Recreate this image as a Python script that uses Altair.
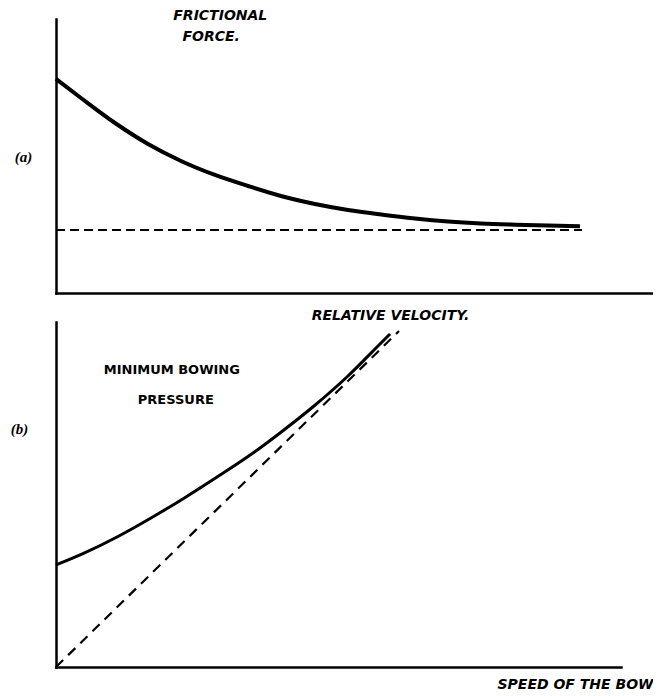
import altair as alt
import pandas as pd

# ---------------- Panel (a): frictional force vs relative velocity ----------------
a_velocity = [0.0, 0.414, 0.977, 1.523, 2.070, 2.632, 3.179, 3.725, 4.288, 4.834, 5.381,
              5.944, 6.490, 7.036, 7.599, 8.146, 8.675]
a_force = [7.810, 7.117, 6.204, 5.438, 4.818, 4.307, 3.905, 3.540, 3.248, 3.029, 2.865,
           2.719, 2.609, 2.536, 2.493, 2.464, 2.438]
a_limit_velocity = [0.0, 8.71]
a_limit_force = [2.30, 2.30]
a_labels = ["FRICTIONAL", "FORCE."]
a_label_x = [2.72, 2.57]
a_label_y = [10.12, 9.36]

# ---------------- Panel (b): minimum bowing pressure vs speed of the bow ----------------
b_speed = [0.0, 0.496, 1.097, 1.681, 2.265, 2.796, 3.398, 3.982, 4.566, 5.168, 5.752, 5.912]
b_pressure = [2.957, 3.299, 3.783, 4.319, 4.893, 5.449, 6.099, 6.806, 7.565, 8.435, 9.391, 9.652]
b_line_speed = [0.0, 6.071]
b_line_pressure = [0.0, 9.739]
b_labels = ["MINIMUM BOWING", "PRESSURE"]
b_label_x = [2.05, 2.12]
b_label_y = [8.61, 7.74]

LABEL_FONT = "DejaVu Sans"
TAG_FONT = "Liberation Serif"

dfA = pd.DataFrame({"v": a_velocity, "f": a_force})
dfA_dash = pd.DataFrame({"v": a_limit_velocity, "f": a_limit_force})
dfA_text = pd.DataFrame({"v": a_label_x, "f": a_label_y, "label": a_labels})

dfB = pd.DataFrame({"s": b_speed, "p": b_pressure})
dfB_dash = pd.DataFrame({"s": b_line_speed, "p": b_line_pressure})
dfB_text = pd.DataFrame({"s": b_label_x, "p": b_label_y, "label": b_labels})

axis_common = dict(labels=False, ticks=False, grid=False, domainColor="black",
                   domainWidth=2.5, domainCap="square", titleColor="black")

xA = alt.X("v:Q", scale=alt.Scale(domain=[0, 9.868], nice=False, zero=False),
           axis=alt.Axis(title="RELATIVE VELOCITY.", titleX=334, titleY=22,
                         titleAlign="center", titleBaseline="middle",
                         titleFont=LABEL_FONT, titleFontSize=14,
                         titleFontStyle="italic", titleFontWeight="bold", **axis_common))
yA = alt.Y("f:Q", scale=alt.Scale(domain=[0, 10], nice=False, zero=False),
           axis=alt.Axis(title="(a)", titleAngle=0, titleX=-33, titleY=137,
                         titleAlign="center", titleBaseline="middle",
                         titleFont=TAG_FONT, titleFontSize=15,
                         titleFontStyle="italic", titleFontWeight="bold", **axis_common))

a_curve = alt.Chart(dfA).mark_line(color="black", strokeWidth=4, interpolate="monotone").encode(x=xA, y=yA)
a_dash = alt.Chart(dfA_dash).mark_line(color="black", strokeWidth=2, strokeDash=[9, 5]).encode(x=xA, y=yA)
a_text = alt.Chart(dfA_text).mark_text(font=LABEL_FONT, fontSize=14, fontStyle="italic",
                                       fontWeight="bold", color="black",
                                       align="center", baseline="middle").encode(x=xA, y=yA, text="label:N")
panelA = alt.layer(a_curve, a_dash, a_text).properties(width=596, height=274)

xB = alt.X("s:Q", scale=alt.Scale(domain=[0, 10], nice=False, zero=False),
           axis=alt.Axis(title="SPEED OF THE BOW", titleX=597, titleY=17,
                         titleAlign="right", titleBaseline="middle",
                         titleFont=LABEL_FONT, titleFontSize=14,
                         titleFontStyle="italic", titleFontWeight="bold", **axis_common))
yB = alt.Y("p:Q", scale=alt.Scale(domain=[0, 10], nice=False, zero=False),
           axis=alt.Axis(title="(b)", titleAngle=0, titleX=-37, titleY=106,
                         titleAlign="center", titleBaseline="middle",
                         titleFont=TAG_FONT, titleFontSize=15,
                         titleFontStyle="italic", titleFontWeight="bold", **axis_common))

b_curve = alt.Chart(dfB).mark_line(color="black", strokeWidth=3, interpolate="monotone").encode(x=xB, y=yB)
b_dash = alt.Chart(dfB_dash).mark_line(color="black", strokeWidth=2.2, strokeDash=[10, 7]).encode(x=xB, y=yB)
b_text = alt.Chart(dfB_text).mark_text(font=LABEL_FONT, fontSize=13, fontWeight="bold",
                                       color="black", align="center",
                                       baseline="middle").encode(x=xB, y=yB, text="label:N")
panelB = alt.layer(b_curve, b_dash, b_text).properties(width=565, height=345)

chart = alt.vconcat(panelA, panelB, spacing=0).properties(
    padding={"left": 2, "top": 0, "right": 0, "bottom": 0},
    background="white",
).configure_view(stroke=None)

chart.save("out.html", embed_options={"renderer": "svg", "actions": False})
